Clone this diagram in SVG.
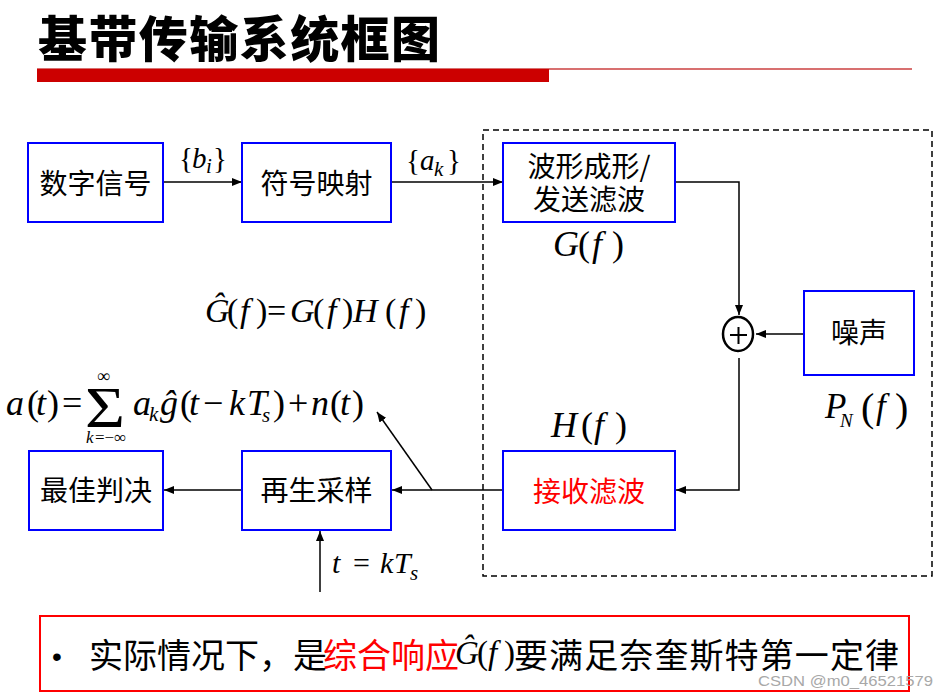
<svg xmlns="http://www.w3.org/2000/svg" width="948" height="698" viewBox="0 0 948 698">
<defs>
<style>
.box{fill:#fff;stroke:#0000ff;stroke-width:2}
.cjk{font-family:"Noto Sans CJK SC","Microsoft YaHei",sans-serif;font-size:28px;fill:#000}
.m{font-family:"Liberation Serif","Times New Roman",serif;font-size:34px;fill:#000}
.i{font-style:italic}
.ln{fill:none;stroke:#000;stroke-width:1.5}
</style>
<marker id="ah" viewBox="0 0 10 8" markerWidth="10" markerHeight="8" refX="10" refY="4" orient="auto" markerUnits="userSpaceOnUse">
<path d="M0,0 L10,4 L0,8 z" fill="#000"/>
</marker>
</defs>
<rect width="948" height="698" fill="#fff"/>

<g id="title">
<text x="38" y="57" font-family="Noto Sans CJK SC,sans-serif" font-size="49" font-weight="900" fill="#000" textLength="402" lengthAdjust="spacing">基带传输系统框图</text>
<line x1="37" y1="69" x2="912" y2="69" stroke="#d87070" stroke-width="2"/>
<rect x="37" y="69" width="512" height="13" fill="#cc0000"/>
</g>

<rect id="channel" x="483" y="130" width="449" height="446" fill="none" stroke="#000" stroke-width="1.5" stroke-dasharray="6,4"/>

<g id="connectors" class="ln" marker-end="url(#ah)">
<path d="M163,182 H242"/>
<path d="M391,182 H503"/>
<path d="M675,182 H739 V315"/>
<path d="M804,334 H756"/>
<path d="M739,358 V490 H676"/>
<path d="M503,490 H392"/>
<path d="M242,490 H164"/>
<path d="M432,490 L377,412"/>
<path d="M320,592 V531"/>
</g>

<g id="n_digital">
<rect class="box" x="28" y="143" width="135" height="79"/>
<text class="cjk" x="95.5" y="194" text-anchor="middle">数字信号</text>
</g>
<g id="n_mapping">
<rect class="box" x="242" y="143" width="149" height="79"/>
<text class="cjk" x="316.5" y="194" text-anchor="middle">符号映射</text>
</g>
<g id="n_tx">
<rect class="box" x="503" y="143" width="172" height="79"/>
<text class="cjk" x="589" y="177" text-anchor="middle">波形成形/</text>
<text class="cjk" x="589" y="210" text-anchor="middle">发送滤波</text>
</g>
<g id="n_sum">
<ellipse cx="738" cy="334" rx="15" ry="17" fill="#fff" stroke="#000" stroke-width="2.5"/>
<path d="M730,335 H747 M738.5,327 V344" stroke="#000" stroke-width="2"/>
</g>
<g id="n_noise">
<rect class="box" x="804" y="291" width="110" height="84"/>
<text class="cjk" x="859" y="343" text-anchor="middle">噪声</text>
</g>
<g id="n_rx">
<rect class="box" x="503" y="451" width="172" height="79"/>
<text class="cjk" x="589" y="502" text-anchor="middle" style="fill:#ff0000">接收滤波</text>
</g>
<g id="n_sample">
<rect class="box" x="242" y="451" width="149" height="79"/>
<text class="cjk" x="316.5" y="501" text-anchor="middle">再生采样</text>
</g>
<g id="n_decide">
<rect class="box" x="29" y="451" width="134" height="79"/>
<text class="cjk" x="96" y="501" text-anchor="middle">最佳判决</text>
</g>

<g id="labels">
<text class="m" y="168" style="font-size:29px"><tspan x="179">{</tspan><tspan class="i" x="192">b</tspan><tspan class="i" x="206" y="173" style="font-size:21px">i</tspan><tspan x="213" y="168">}</tspan></text>
<text class="m" y="170" style="font-size:29px"><tspan x="406">{</tspan><tspan class="i" x="420">a</tspan><tspan class="i" x="434" y="176" style="font-size:21px">k</tspan><tspan x="447" y="170">}</tspan></text>
<text class="m" y="256" style="font-size:36px"><tspan class="i" x="553">G</tspan><tspan x="578">(</tspan><tspan class="i" x="592">f</tspan><tspan x="612">)</tspan></text>
<text class="m" y="437" style="font-size:36px"><tspan class="i" x="551">H</tspan><tspan x="581">(</tspan><tspan class="i" x="594">f</tspan><tspan x="615">)</tspan></text>
<text class="m" y="418" style="font-size:35px"><tspan class="i" x="825">P</tspan><tspan class="i" x="840" y="427" style="font-size:19px">N</tspan><tspan x="861" y="421" style="font-size:40px">(</tspan><tspan class="i" x="876" y="418">f</tspan><tspan x="895" y="421" style="font-size:40px">)</tspan></text>
<text class="m" y="322"><tspan class="i" x="205">Ĝ</tspan><tspan x="227">(</tspan><tspan class="i" x="240">f</tspan><tspan x="256">)</tspan><tspan x="267">=</tspan><tspan class="i" x="290">G</tspan><tspan x="313">(</tspan><tspan class="i" x="327">f</tspan><tspan x="342">)</tspan><tspan class="i" x="353">H</tspan><tspan x="385">(</tspan><tspan class="i" x="399">f</tspan><tspan x="415">)</tspan></text>
<text class="m" y="415" style="font-size:36px"><tspan class="i" x="6">a</tspan><tspan x="27">(</tspan><tspan class="i" x="36">t</tspan><tspan x="47">)</tspan><tspan x="62">=</tspan></text>
<text class="m" x="85" y="427" style="font-size:56px" textLength="40" lengthAdjust="spacingAndGlyphs">Σ</text>
<text class="m" x="97" y="382" style="font-size:18px">∞</text>
<text class="m" y="443" style="font-size:17px"><tspan class="i" x="86">k</tspan><tspan x="95">=−∞</tspan></text>
<text class="m" y="415" style="font-size:36px"><tspan class="i" x="133">a</tspan><tspan class="i" x="149" y="421" style="font-size:21px">k</tspan><tspan class="i" x="160" y="415">ĝ</tspan><tspan x="180">(</tspan><tspan class="i" x="189">t</tspan><tspan x="203">−</tspan><tspan class="i" x="229">k</tspan><tspan class="i" x="247">T</tspan><tspan class="i" x="262" y="422" style="font-size:21px">s</tspan><tspan x="273" y="415">)</tspan><tspan x="288">+</tspan><tspan class="i" x="311">n</tspan><tspan x="330">(</tspan><tspan class="i" x="340">t</tspan><tspan x="352">)</tspan></text>
<text class="m" y="573" style="font-size:30px"><tspan class="i" x="332">t</tspan><tspan x="353">=</tspan><tspan class="i" x="380">k</tspan><tspan class="i" x="394">T</tspan><tspan class="i" x="410" y="580" style="font-size:21px">s</tspan></text>
</g>

<g id="note">
<rect x="40" y="616" width="869" height="75" fill="none" stroke="#ff0000" stroke-width="2"/>
<text x="52" y="666" font-family="Liberation Sans,Arial,sans-serif" font-size="28" fill="#000">•</text>
<text class="cjk" x="89" y="668" style="font-size:34px">实际情况下，是</text>
<text class="cjk" x="323" y="668" style="font-size:34px;fill:#ff0000">综合响应</text>
<text class="m" y="664" style="font-size:33px"><tspan class="i" x="455">Ĝ</tspan><tspan x="477">(</tspan><tspan class="i" x="488">f</tspan><tspan x="504">)</tspan></text>
<text class="cjk" x="514" y="668" style="font-size:34px" textLength="385" lengthAdjust="spacing">要满足奈奎斯特第一定律</text>
</g>

<text x="758" y="686" font-family="Liberation Sans,Arial,sans-serif" font-size="15" fill="#a8a8a8" textLength="175" lengthAdjust="spacingAndGlyphs">CSDN @m0_46521579</text>
</svg>
